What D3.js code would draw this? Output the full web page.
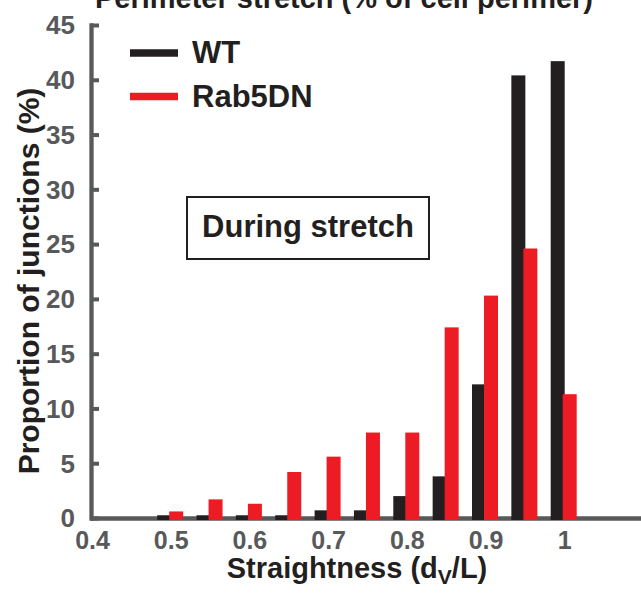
<!DOCTYPE html>
<html>
<head>
<meta charset="utf-8">
<script src="https://cdn.jsdelivr.net/npm/d3@7"></script>
<style>
  html, body { margin: 0; padding: 0; background: #fff; }
  svg { display: block; font-family: "Liberation Sans", Arial, Helvetica, sans-serif; font-weight: bold; }
</style>
</head>
<body>
<svg id="chart" width="641" height="597"></svg>
<script>
// ---- data ----
const bins = [0.5, 0.55, 0.6, 0.65, 0.7, 0.75, 0.8, 0.85, 0.9, 0.95, 1.0];
const wtValues = [0.25, 0.25, 0.25, 0.25, 0.7, 0.7, 2.0, 3.8, 12.2, 40.4, 41.7];
const rab5dnValues = [0.6, 1.7, 1.3, 4.2, 5.6, 7.8, 7.8, 17.4, 20.3, 24.6, 11.3];
const seriesNames = ["WT", "Rab5DN"];
const seriesColors = ["#231f20", "#ed1c24"];
const xTickValues = [0.4, 0.5, 0.6, 0.7, 0.8, 0.9, 1.0];
const xTickLabels = ["0.4", "0.5", "0.6", "0.7", "0.8", "0.9", "1"];
const yTickValues = [0, 5, 10, 15, 20, 25, 30, 35, 40, 45];
const titleText = "Perimeter stretch (% of cell perimer)";
const yLabelText = "Proportion of junctions (%)";
const boxText = "During stretch";

const svg = d3.select("#chart");
const axisColor = "#58595b";
const textColor = "#231f20";

const x = d3.scaleLinear().domain([0.4, 1.1]).range([90.5, 641.4]);
const y = d3.scaleLinear().domain([0, 45]).range([518, 25]);
const barW = 14;

// ---- title (partially clipped at top, as in the reference) ----
svg.append("text")
  .attr("x", 344).attr("y", 8)
  .attr("text-anchor", "middle")
  .attr("font-size", 29)
  .attr("fill", textColor)
  .text(titleText);

// ---- y axis ----
const yAxis = d3.axisLeft(y).tickValues(yTickValues).tickSizeInner(-8).tickSizeOuter(0).tickPadding(16);
const gy = svg.append("g").attr("transform", "translate(91,0)").call(yAxis);
gy.select(".domain").attr("stroke", axisColor).attr("stroke-width", 4.3).attr("stroke-linecap", "square");
gy.selectAll(".tick line").attr("stroke", axisColor).attr("stroke-width", 4);
gy.selectAll(".tick text")
  .attr("font-size", 26).attr("fill", axisColor)
  .attr("font-family", "'Liberation Sans', Arial, sans-serif").attr("font-weight", "bold")
  .attr("dy", "0.34em");

// ---- x axis ----
const xAxis = d3.axisBottom(x).tickValues(xTickValues)
  .tickFormat((d, i) => xTickLabels[i]).tickSize(0).tickPadding(13);
const gx = svg.append("g").attr("transform", "translate(0,518)").call(xAxis);
gx.select(".domain").attr("stroke", axisColor).attr("stroke-width", 4.3);
gx.selectAll(".tick text")
  .attr("font-size", 25).attr("fill", axisColor)
  .attr("font-family", "'Liberation Sans', Arial, sans-serif").attr("font-weight", "bold")
  .attr("dx", 1.5);

// ---- bars ----
const series = [wtValues, rab5dnValues];
const offsets = [-12, 0];
series.forEach((vals, si) => {
  svg.append("g").selectAll("rect")
    .data(bins.map((b, i) => ({ b, v: vals[i] })))
    .join("rect")
    .attr("x", d => x(d.b) + offsets[si])
    .attr("width", barW)
    .attr("y", d => y(d.v))
    .attr("height", d => y(0) + 2 - y(d.v))
    .attr("fill", seriesColors[si]);
});

// ---- axis labels ----
svg.append("text")
  .attr("transform", "translate(39,281) rotate(-90)")
  .attr("text-anchor", "middle")
  .attr("font-size", 30)
  .attr("fill", textColor)
  .text(yLabelText);

const xl = svg.append("text")
  .attr("x", 357).attr("y", 578)
  .attr("text-anchor", "middle")
  .attr("font-size", 29)
  .attr("fill", textColor);
xl.append("tspan").text("Straightness (d");
xl.append("tspan").attr("font-size", 21).attr("dy", 6).text("V");
xl.append("tspan").attr("dy", -6).text("/L)");

// ---- legend ----
const legY = [53, 96.5];
const legBase = [63, 107];
seriesNames.forEach((n, i) => {
  svg.append("line")
    .attr("x1", 130).attr("x2", 178)
    .attr("y1", legY[i]).attr("y2", legY[i])
    .attr("stroke", seriesColors[i]).attr("stroke-width", 7.5);
  svg.append("text")
    .attr("x", 192).attr("y", legBase[i])
    .attr("font-size", 31)
    .attr("fill", textColor)
    .text(n);
});

// ---- annotation box ----
svg.append("rect")
  .attr("x", 187).attr("y", 197).attr("width", 242).attr("height", 62)
  .attr("fill", "#fff").attr("stroke", textColor).attr("stroke-width", 2);
svg.append("text")
  .attr("x", 308).attr("y", 237)
  .attr("text-anchor", "middle")
  .attr("font-size", 31)
  .attr("fill", textColor)
  .text(boxText);
</script>
</body>
</html>
